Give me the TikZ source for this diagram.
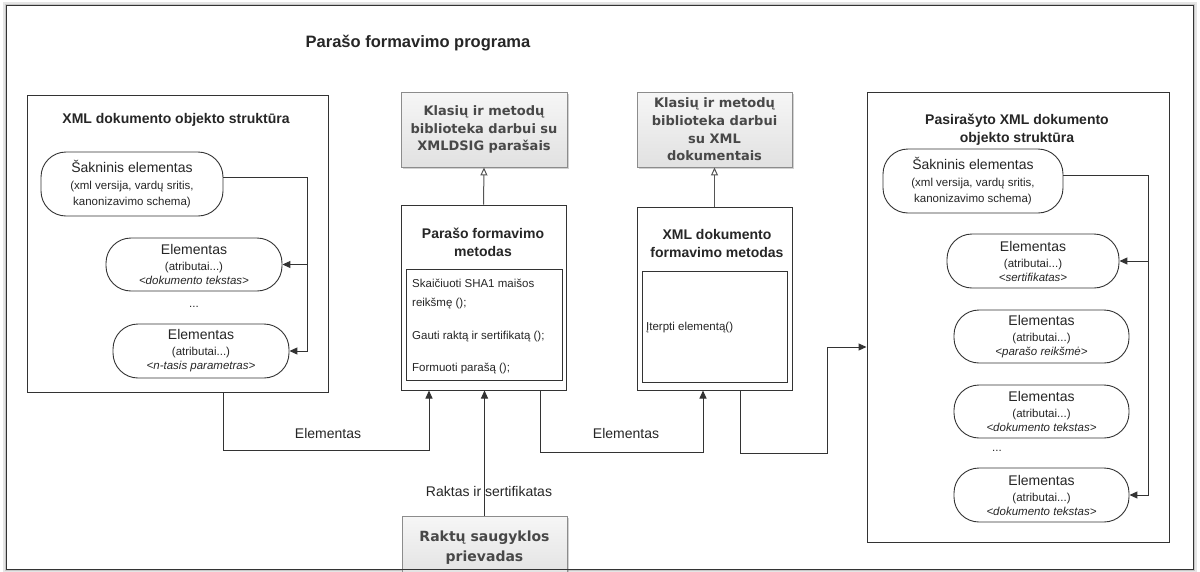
\documentclass[tikz,border=0pt]{standalone}
\usepackage{fontspec}
\setmainfont{Liberation Sans}
\newfontfamily\libfont{DejaVu Sans}
\usetikzlibrary{arrows.meta,shadows}

\definecolor{linec}{HTML}{333333}
\definecolor{libtext}{HTML}{484848}
\definecolor{libtop}{HTML}{F6F6F6}
\definecolor{libbot}{HTML}{E1E1E1}
\definecolor{genc}{HTML}{555555}

\newcommand\fTitle{\fontsize{14}{18}\selectfont\bfseries}
\newcommand\fMain{\fontsize{14}{17}\selectfont}
\newcommand\fSub{\fontsize{11.5}{16}\selectfont}
\newcommand\fLib{\libfont\bfseries\fontsize{13}{17.6}\selectfont}
% three-line element label: name, attributes, content
\newcommand\elemtext[1]{\fMain Elementas\\[4pt]\fSub (atributai...)\\[2pt]\fSub\itshape #1}
\newcommand\roottext{\fMain Šakninis elementas\\[5pt]\fSub (xml versija, vardų sritis,\\[4pt]\fSub kanonizavimo schema)}

\tikzset{
  panel/.style={draw=linec, line width=1pt, fill=white, inner sep=0pt},
  stadium/.style={draw=linec, line width=0.9pt, fill=white, rounded corners=25pt,
    align=center, inner sep=0pt, text=black!85},
  libbox/.style={draw=black!45, line width=0.9pt, top color=libtop, bottom color=libbot,
    drop shadow={shadow xshift=1.5pt, shadow yshift=-1.5pt, opacity=0.35},
    align=center, inner sep=0pt, text=libtext, font=\fLib},
  conn/.style={draw=linec, line width=1pt, -{Triangle[length=8pt,width=7pt]}},
  gen/.style={draw=genc, line width=1pt, -{Triangle[open, fill=white, length=8pt, width=7pt]}},
  txt/.style={inner sep=0pt, text=black!85},
}

\begin{document}
\begin{tikzpicture}[x=1pt, y=-1pt]
\useasboundingbox (0,0) rectangle (1200,571);
\clip (0,0) rectangle (1200,571);

% outer frame with soft shadow
\node[minimum width=1186pt, minimum height=563pt, inner sep=0pt] (outer) at (600,287.5) {};
\draw[black!10, line width=8pt] (outer.south west) rectangle (outer.north east);
\draw[black!22, line width=4.5pt] (outer.south west) rectangle (outer.north east);
\fill[white] (outer.south west) rectangle (outer.north east);

\node[txt, font=\fontsize{16.5}{20}\selectfont\bfseries] (title) at (418,43) {Parašo formavimo programa};

% left: document object structure
\node[panel, minimum width=301pt, minimum height=297pt] (lbox) at (177.5,243.5) {};
\node[txt, font=\fTitle] (ltitle) at (176,120) {XML dokumento objekto struktūra};
\node[stadium, minimum width=182pt, minimum height=64pt] (rootL) at (132,184) {\roottext};
\node[stadium, minimum width=176pt, minimum height=53pt] (el1L) at (194,264.5)
  {\elemtext{<dokumento tekstas>}};
\node[txt, font=\fSub] (dotsL) at (194,307) {...};
\node[stadium, minimum width=176pt, minimum height=54pt] (el2L) at (201,351)
  {\elemtext{<n-tasis parametras>}};
\coordinate (busL) at (307,177);
\draw[conn] ([yshift=7pt]rootL.east) -- (busL) |- (el2L.east);
\draw[conn] (busL |- el1L.east) -- (el1L.east);

% signature method and its library
\node[libbox, minimum width=166pt, minimum height=75pt] (lib1) at (484,129.5)
  {Klasių ir metodų\\biblioteka darbui su\\XMLDSIG parašais};
\node[panel, minimum width=165pt, minimum height=185pt] (sigm) at (483.5,297.5) {};
\node[txt, font=\fTitle, align=center] (sigtitle) at (483,242) {Parašo formavimo\\metodas};
\node[panel, minimum width=156pt, minimum height=111pt] (siginner) at (484,324.5) {};
\node[txt, font=\fontsize{11.5}{19}\selectfont, align=left, anchor=north west] (sigops) at (412,279)
  {Skaičiuoti SHA1 maišos\\reikšmę ();\\[14pt]Gauti raktą ir sertifikatą ();\\[13pt]Formuoti parašą ();};
\draw[gen] (sigm.north) -- (lib1.south);

% XML document method and its library
\node[libbox, minimum width=155pt, minimum height=75pt] (lib2) at (714.5,129.5)
  {Klasių ir metodų\\biblioteka darbui\\su XML\\dokumentais};
\node[panel, minimum width=155pt, minimum height=183pt] (xmlm) at (714.5,298.5) {};
\node[txt, font=\fTitle, align=center] (xmltitle) at (717,243.5) {XML dokumento\\formavimo metodas};
\node[panel, minimum width=145pt, minimum height=111pt] (xmlinner) at (714.5,326.5) {};
\node[txt, font=\fSub, anchor=west] (insop) at (646,328) {Įterpti elementą()};
\draw[gen] (xmlm.north) -- (lib2.south);

% right: signed document object structure
\node[panel, minimum width=302pt, minimum height=450pt] (rbox) at (1018,317) {};
\node[txt, font=\fTitle, align=center] (rtitle) at (1017,129.5) {Pasirašyto XML dokumento\\objekto struktūra};
\node[stadium, minimum width=180pt, minimum height=64pt] (rootR) at (973,181) {\roottext};
\node[stadium, minimum width=172pt, minimum height=54pt] (el1R) at (1033,261)
  {\elemtext{<sertifikatas>}};
\node[stadium, minimum width=175pt, minimum height=53pt] (el2R) at (1041.5,336.5)
  {\elemtext{<parašo reikšmė>}};
\node[stadium, minimum width=175pt, minimum height=53pt] (el3R) at (1041.5,411.5)
  {\elemtext{<dokumento tekstas>}};
\node[txt, font=\fSub] (dotsR) at (997,451) {...};
\node[stadium, minimum width=175pt, minimum height=54pt] (el4R) at (1041.5,495)
  {\elemtext{<dokumento tekstas>}};
\coordinate (busR) at (1148,175);
\draw[conn] ([yshift=6pt]rootR.east) -- (busR) |- (el4R.east);
\draw[conn] (busR |- el1R.east) -- (el1R.east);

% key store
\node[libbox, minimum width=165pt, minimum height=64pt, font=\libfont\bfseries\fontsize{14}{20}\selectfont] (keys) at (484.5,548)
  {Raktų saugyklos\\prievadas};

% data flow between blocks
\draw[conn] ([xshift=45.5pt]lbox.south) -- ++(0,58) -| ([xshift=-54.5pt]sigm.south);
\node[txt, font=\fMain] (flow1) at (328,433) {Elementas};
\draw[conn] (keys.north) -- (keys.north |- sigm.south);
\node[txt, font=\fMain] (flow2) at (489,491) {Raktas ir sertifikatas};
\draw[conn] ([xshift=56.5pt]sigm.south) -- ++(0,62) -| ([xshift=-11.5pt]xmlm.south);
\node[txt, font=\fMain] (flow3) at (626,433) {Elementas};
\draw[conn] ([xshift=25.5pt]xmlm.south) -- ++(0,63) -| ([xshift=-39pt,yshift=-30pt]rbox.west)
  -- ([yshift=-30pt]rbox.west);

% frame border on top
\draw[linec, line width=1.3pt] (outer.south west) rectangle (outer.north east);
\end{tikzpicture}
\end{document}
